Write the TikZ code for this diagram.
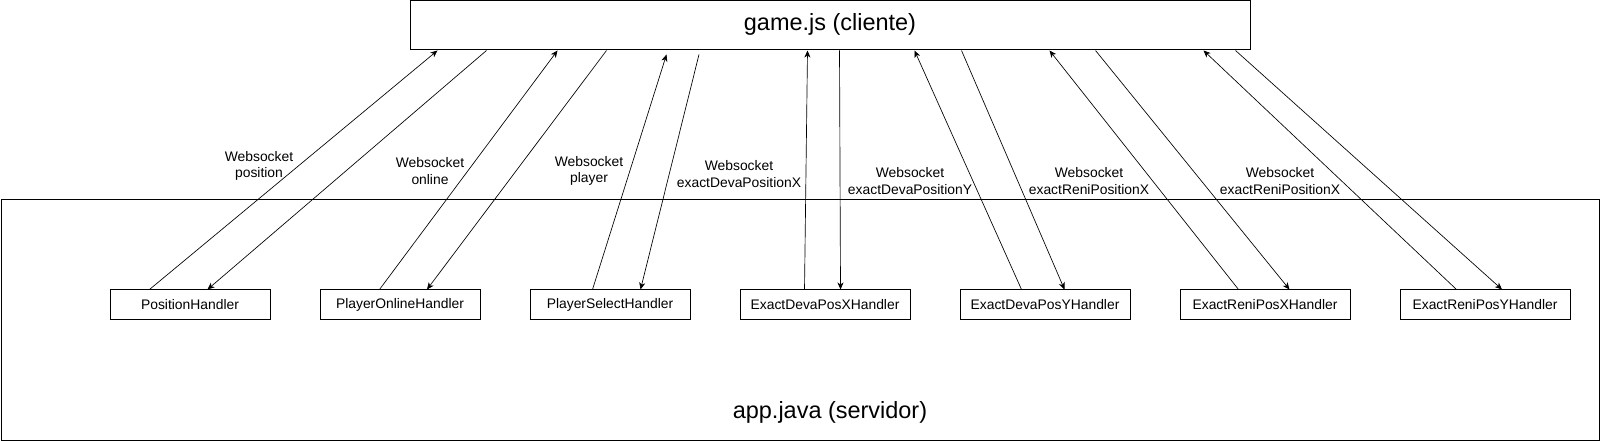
\documentclass[tikz,border=0pt]{standalone}
\usepackage{fontspec}
\setmainfont{Liberation Sans}
\usetikzlibrary{calc,arrows.meta}
\newdimen\pxu \pxu=0.75pt
\begin{document}
\begin{tikzpicture}[x=0.75pt,y=-0.75pt,
  line width=0.75pt,
  bigbox/.style={draw,inner sep=0pt,font=\fontsize{17.6pt}{21pt}\selectfont},
  handler/.style={draw,inner sep=0pt,minimum height=30\pxu,font=\fontsize{10.4pt}{12.5pt}\selectfont},
  wslabel/.style={align=center,inner sep=0pt,font=\fontsize{10.4pt}{12.5pt}\selectfont},
  conn/.style={line width=0.5pt,-{Stealth[length=5.25pt,width=4.5pt,inset=1.5pt]}}]
\useasboundingbox (0,0) rectangle (1601,441);
% containers
\node[bigbox,minimum width=840\pxu,minimum height=49\pxu] (game) at (830,25.5) {};
\node[font=\fontsize{17.6pt}{21pt}\selectfont,inner sep=0pt] (gametxt) at (830,24) {game.js (cliente)};
\node[bigbox,minimum width=1598\pxu,minimum height=240\pxu] (app) at (800,320) {};
\node[font=\fontsize{17.6pt}{21pt}\selectfont,inner sep=0pt] (apptxt) at (830,412) {app.java (servidor)};
% handlers
\node[handler,minimum width=160\pxu] (ph) at (190,305) {PositionHandler};
\node[handler,minimum width=160\pxu] (po) at (400,305) {PlayerOnlineHandler};
\node[handler,minimum width=160\pxu] (ps) at (610,305) {PlayerSelectHandler};
\node[handler,minimum width=170\pxu] (dx) at (825,305) {ExactDevaPosXHandler};
\node[handler,minimum width=170\pxu] (dy) at (1045,305) {ExactDevaPosYHandler};
\node[handler,minimum width=170\pxu] (rx) at (1265,305) {ExactReniPosXHandler};
\node[handler,minimum width=170\pxu] (ry) at (1485,305) {ExactReniPosYHandler};
% connectors
\draw[conn] ($(ph.north west)+(40,0)$) -- ($(game.south west)+(28,0)$);
\draw[conn] ($(game.south west)+(77,0)$) -- ($(ph.north west)+(98,0)$);
\draw[conn] ($(po.north west)+(60,0)$) -- ($(game.south west)+(148,0)$);
\draw[conn] ($(game.south west)+(197,0)$) -- ($(po.north west)+(107.5,0)$);
\draw[conn] ($(ps.north west)+(63,0)$) -- ($(game.south west)+(257,4)$);
\draw[conn] ($(game.south west)+(289.5,4)$) -- ($(ps.north west)+(111,0)$);
\draw[conn] ($(dx.north west)+(65,0)$) -- ($(game.south west)+(398,0)$);
\draw[conn] ($(game.south west)+(430,0)$) -- ($(dx.north west)+(101,0)$);
\draw[conn] ($(dy.north west)+(62,0)$) -- ($(game.south west)+(505,0)$);
\draw[conn] ($(game.south west)+(552,0)$) -- ($(dy.north west)+(105,0)$);
\draw[conn] ($(rx.north west)+(59,0)$) -- ($(game.south west)+(640,0)$);
\draw[conn] ($(game.south west)+(686,0)$) -- ($(rx.north west)+(110,0)$);
\draw[conn] ($(ry.north west)+(57,0)$) -- ($(game.south west)+(794,0)$);
\draw[conn] ($(game.south west)+(826,0)$) -- ($(ry.north west)+(102.5,0)$);
% labels
\node[wslabel] (l1) at (259,166) {Websocket\\position};
\node[wslabel] (l2) at (430,171) {Websocket\\online};
\node[wslabel] (l3) at (589,171) {Websocket\\player};
\node[wslabel] (l4) at (739,174) {Websocket\\exactDevaPositionX};
\node[wslabel] (l5) at (910,181) {Websocket\\exactDevaPositionY};
\node[wslabel] (l6) at (1089,181) {Websocket\\exactReniPositionX};
\node[wslabel] (l7) at (1280,181) {Websocket\\exactReniPositionX};
\end{tikzpicture}
\end{document}
